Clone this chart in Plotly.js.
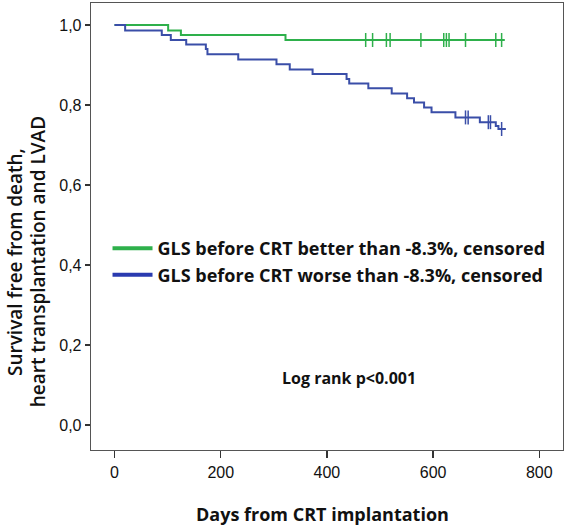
<!DOCTYPE html>
<html><head><meta charset="utf-8">
<script src="https://cdn.plot.ly/plotly-3.0.1.min.js"></script>
<style>body{margin:0;background:#fff}#c{width:566px;height:527px}</style>
</head><body><div id="c"></div>
<script>
// Kaplan-Meier data
const greenTimes = [0, 101, 125, 322, 735];
const greenSurv  = [1.0, 0.986, 0.975, 0.9625, 0.9625];
const greenCensorTimes = [473, 486, 512, 519, 577, 620, 625, 630, 661, 718, 729];
const greenCensorSurv  = [0.9625, 0.9625, 0.9625, 0.9625, 0.9625, 0.9625, 0.9625, 0.9625, 0.9625, 0.9625, 0.9625];

const blueTimes = [0, 20, 89, 106, 135, 172, 175, 233, 305, 330, 373, 437, 442, 478, 522, 551, 564, 583, 597, 642, 688, 718, 723, 737];
const blueSurv  = [1.0, 0.986, 0.975, 0.9625, 0.951, 0.94, 0.927, 0.914, 0.902, 0.889, 0.8775, 0.865, 0.854, 0.842, 0.829, 0.817, 0.806, 0.794, 0.782, 0.769, 0.757, 0.7475, 0.74, 0.74];
const blueCensorTimes = [661, 666, 704, 708, 729];
const blueCensorSurv  = [0.769, 0.769, 0.757, 0.757, 0.74];

const seriesNames = ["GLS before CRT better than -8.3%, censored", "GLS before CRT worse than -8.3%, censored"];
const xTicks = [0, 200, 400, 600, 800];
const yTicks = [0, 0.2, 0.4, 0.6, 0.8, 1.0];

const GREEN = '#2eb04b', BLUE = '#3a4ea8';
const boldFont = {family: 'Open Sans, sans-serif', size: 18, color: '#111', weight: 'bold'};
const yTitleFont = {family: 'Open Sans, sans-serif', size: 19, color: '#111', weight: 600};

const traces = [
  {x: greenTimes, y: greenSurv, mode: 'lines', line: {shape: 'hv', color: GREEN, width: 2}, showlegend: false},
  {x: greenCensorTimes, y: greenCensorSurv, mode: 'markers', marker: {symbol: 'line-ns', size: 10, line: {color: GREEN, width: 1.5}}, showlegend: false},
  {x: blueTimes, y: blueSurv, mode: 'lines', line: {shape: 'hv', color: BLUE, width: 2}, showlegend: false},
  {x: blueCensorTimes, y: blueCensorSurv, mode: 'markers', marker: {symbol: 'line-ns', size: 10, line: {color: BLUE, width: 1.5}}, showlegend: false},
  {x: [null], y: [null], mode: 'lines', name: seriesNames[0], line: {color: GREEN, width: 4}},
  {x: [null], y: [null], mode: 'lines', name: seriesNames[1], line: {color: '#2a3bb0', width: 4}}
];

const layout = {
  width: 566, height: 527,
  margin: {l: 91, r: 3, t: 3, b: 77},
  paper_bgcolor: '#fff', plot_bgcolor: '#fff',
  separators: ',.',
  showlegend: true,
  legend: {x: 0.035, y: 0.492, xanchor: 'left', yanchor: 'top', font: boldFont, bgcolor: 'rgba(0,0,0,0)', tracegroupgap: 0, itemwidth: 40},
  xaxis: {range: [-44.3, 844.6], tickvals: xTicks, showgrid: false, zeroline: false,
    showline: true, mirror: true, linecolor: '#555', linewidth: 1.3,
    ticks: 'outside', ticklen: 7, tickcolor: '#333', tickwidth: 1.3,
    tickfont: {family: 'Liberation Sans, Arial, sans-serif', size: 16, color: '#111'}},
  yaxis: {range: [-0.0625, 1.055], tickvals: yTicks, tickformat: '.1f', showgrid: false, zeroline: false,
    showline: true, mirror: true, linecolor: '#555', linewidth: 1.3,
    ticks: 'outside', ticklen: 5, tickcolor: '#333', tickwidth: 1.3,
    tickfont: {family: 'Liberation Sans, Arial, sans-serif', size: 16, color: '#111'}},
  annotations: [
    {text: 'Log rank p<0.001', xref: 'x', yref: 'y', x: 441.6, y: 0.1175, showarrow: false, font: {family: 'Open Sans, sans-serif', size: 16, color: '#111', weight: 'bold'}},
    {text: 'Days from CRT implantation', xref: 'paper', yref: 'paper', x: 0.4915, y: -0.143, xanchor: 'center', yanchor: 'middle', showarrow: false, font: boldFont},
    {text: 'Survival free from death,', xref: 'paper', yref: 'paper', x: -0.161, y: 0.4206, textangle: -90, xanchor: 'center', yanchor: 'middle', showarrow: false, font: yTitleFont},
    {text: 'heart transplantation and LVAD', xref: 'paper', yref: 'paper', x: -0.1115, y: 0.4206, textangle: -90, xanchor: 'center', yanchor: 'middle', showarrow: false, font: yTitleFont}
  ]
};

Plotly.newPlot('c', traces, layout, {staticPlot: true, displayModeBar: false});
</script>
</body></html>
